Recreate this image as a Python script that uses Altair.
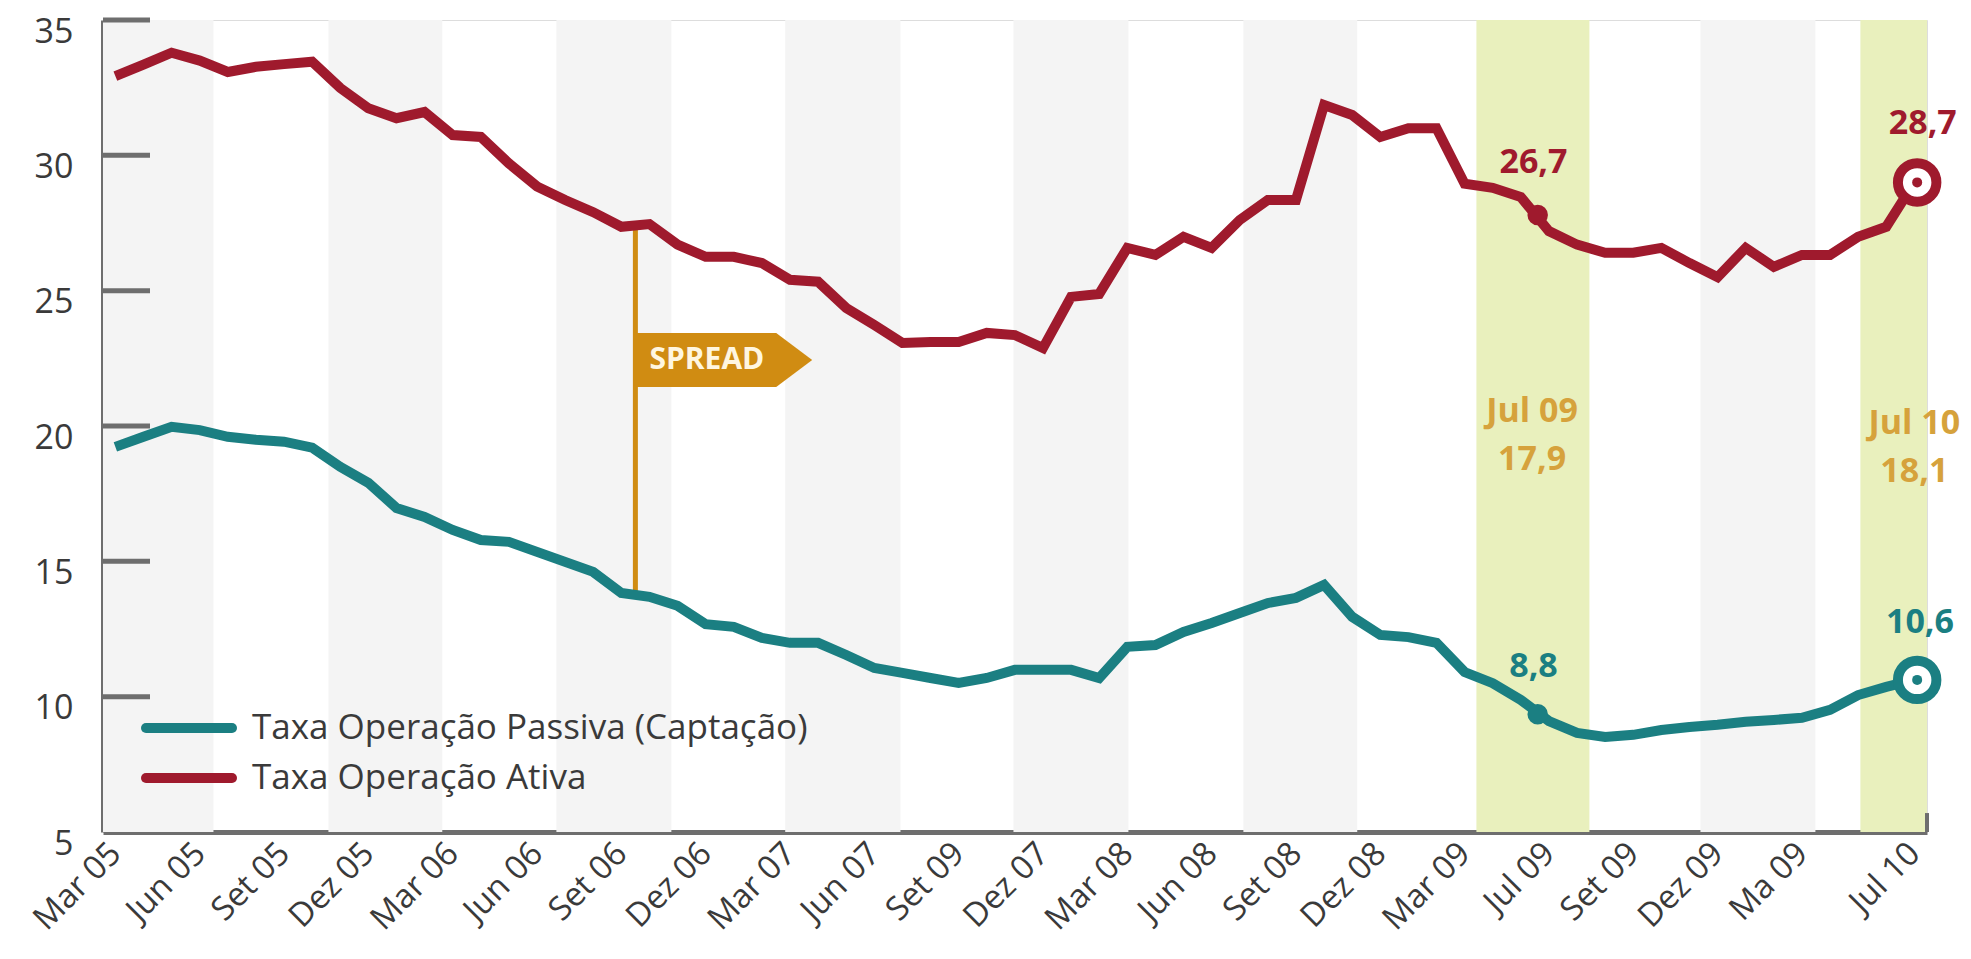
import altair as alt
import pandas as pd

# ---------------- data ----------------
idx = list(range(65))
ativa = [32.93, 33.35, 33.79, 33.5, 33.08, 33.27, 33.37, 33.46, 32.49, 31.74,
         31.37, 31.6, 30.75, 30.68, 29.7, 28.85, 28.35, 27.9, 27.36, 27.46,
         26.7, 26.25, 26.25, 26.02, 25.4, 25.33, 24.36, 23.73, 23.07, 23.1,
         23.1, 23.44, 23.36, 22.88, 24.77, 24.88, 26.58, 26.32, 26.99, 26.58,
         27.61, 28.35, 28.35, 31.86, 31.49, 30.68, 31.0, 31.0, 28.95, 28.8,
         28.46, 27.2, 26.7, 26.4, 26.4, 26.58, 26.02, 25.5, 26.58, 25.88,
         26.32, 26.32, 26.99, 27.36, 29.0]
passiva = [19.23, 19.6, 19.97, 19.85, 19.6, 19.49, 19.42, 19.2, 18.49, 17.9,
           16.97, 16.64, 16.16, 15.79, 15.72, 15.35, 14.98, 14.61, 13.83, 13.69,
           13.36, 12.68, 12.58, 12.17, 11.99, 11.99, 11.54, 11.06, 10.88, 10.69,
           10.51, 10.69, 10.99, 10.99, 10.99, 10.69, 11.84, 11.91, 12.39, 12.72,
           13.09, 13.46, 13.65, 14.13, 12.95, 12.28, 12.2, 11.99, 10.91, 10.5,
           9.88, 9.1, 8.66, 8.51, 8.59, 8.77, 8.88, 8.96, 9.07, 9.14,
           9.22, 9.51, 10.06, 10.36, 10.62]

tick_idx = [0, 3, 6, 9, 12, 15, 18, 21, 24, 27, 30, 33, 36, 39, 42, 45, 48, 51, 54, 57, 60, 64]
tick_labels = ["Mar 05", "Jun 05", "Set 05", "Dez 05", "Mar 06", "Jun 06", "Set 06",
               "Dez 06", "Mar 07", "Jun 07", "Set 09", "Dez 07", "Mar 08", "Jun 08",
               "Set 08", "Dez 08", "Mar 09", "Jul 09", "Set 09", "Dez 09", "Ma 09", "Jul 10"]
y_ticks = [5, 10, 15, 20, 25, 30, 35]

gray_start = [-0.44, 7.58, 15.69, 23.83, 31.95, 40.13, 56.39]
gray_end = [3.49, 11.63, 19.78, 27.93, 36.04, 44.18, 60.48]
yellow_start = [48.42, 62.08]
yellow_end = [52.44, 64.45]

series_names = ["Taxa Operação Passiva (Captação)", "Taxa Operação Ativa"]

# highlighted points
hl_x = [50.6, 50.6]
hl_y = [27.8, 9.35]
end_x = [64.1, 64.1]
end_y = [29.0, 10.62]
val_labels = ["26,7", "8,8", "28,7", "10,6"]
val_x = [50.45, 50.45, 64.3, 64.2]
val_y = [29.72, 11.1, 31.15, 12.72]
spread_labels = ["Jul 09", "17,9", "Jul 10", "18,1"]
spread_lx = [50.4, 50.4, 64.0, 64.0]
spread_ly = [20.52, 18.75, 20.08, 18.3]
spread_rule_x = [18.5]
spread_rule_top = [27.3]
spread_rule_bottom = [13.75]
flag_x = [21.66]
flag_y = [22.44]
flag_text_x = [19.0]

RED = "#9f1a2d"
TEAL = "#1b7f82"
GOLD = "#d08c12"
GOLD_TXT = "#d6a23c"
AXIS = "#6e6e6e"
FONT = "Open Sans"

W, H = 1824, 812
xs = alt.Scale(domain=[-0.44, 64.45], nice=False, zero=False)
ys = alt.Scale(domain=[5, 35], nice=False, zero=False)

label_expr = "[" + ",".join("'%s'" % l for l in tick_labels) + "][indexof([" + \
    ",".join(str(v) for v in tick_idx) + "], datum.value)]"

x_axis = alt.Axis(values=tick_idx, labelExpr=label_expr, labelAngle=-45,
                  labelAlign="right", labelBaseline="middle", labelFontSize=33,
                  labelFont=FONT, labelColor="#3a3a3a", ticks=False,
                  domainColor=AXIS, domainWidth=5, grid=False, title=None,
                  labelPadding=16, labelOverlap=False, labelFlush=False, labelBound=False)
y_axis = alt.Axis(values=y_ticks, labelFontSize=34, labelFont=FONT, labelColor="#3a3a3a",
                  ticks=False, domainColor=AXIS, domainWidth=5, grid=False, title=None,
                  labelPadding=30, labelOffset=12)


def X(field):
    return alt.X(field, scale=xs, title=None)


def Y(field):
    return alt.Y(field, scale=ys, title=None)


# ---------------- layers ----------------
gray_df = pd.DataFrame({"x0": gray_start, "x1": gray_end})
yellow_df = pd.DataFrame({"x0": yellow_start, "x1": yellow_end})

gray_layer = alt.Chart(gray_df).mark_rect(color="#f4f4f4").encode(
    x=alt.X("x0:Q", scale=xs, axis=x_axis), x2="x1:Q",
    y=alt.value(0), y2=alt.value(H))
yellow_layer = alt.Chart(yellow_df).mark_rect(color="#e9f0bd").encode(
    x=X("x0:Q"), x2="x1:Q",
    y=alt.value(0), y2=alt.value(H))

ytick_df = pd.DataFrame({"v": y_ticks[1:]})
yticks = alt.Chart(ytick_df).mark_rule(color=AXIS, strokeWidth=5).encode(
    y=alt.Y("v:Q", scale=ys, axis=y_axis), x=alt.value(0), x2=alt.value(47))

long_df = pd.DataFrame({
    "idx": idx + idx,
    "valor": passiva + ativa,
    "serie": [series_names[0]] * len(idx) + [series_names[1]] * len(idx),
})

lines = alt.Chart(long_df).mark_line(strokeWidth=10, strokeJoin="miter").encode(
    x=X("idx:Q"),
    y=Y("valor:Q"),
    color=alt.Color("serie:N", scale=alt.Scale(domain=series_names, range=[TEAL, RED]), legend=None),
    detail="serie:N",
)

end_tick_df = pd.DataFrame({"x": [64.45], "y0": [5.0], "y1": [5.7]})
end_tick = alt.Chart(end_tick_df).mark_rule(color=AXIS, strokeWidth=4).encode(
    x=X("x:Q"), y=Y("y0:Q"), y2="y1:Q")

# spread flag
sr_df = pd.DataFrame({"x": spread_rule_x, "y0": spread_rule_top, "y1": spread_rule_bottom})
spread_rule = alt.Chart(sr_df).mark_rule(color=GOLD, strokeWidth=5).encode(
    x=X("x:Q"), y=Y("y0:Q"), y2="y1:Q")
flag_df = pd.DataFrame({"x": flag_x, "y": flag_y, "tx": flag_text_x, "t": ["SPREAD"]})
flag = alt.Chart(flag_df).mark_point(
    shape="M-1,-0.307L0.591,-0.307L1,0L0.591,0.307L-1,0.307Z",
    filled=True, fill=GOLD, opacity=1, strokeWidth=0, size=30976).encode(
    x=X("x:Q"), y=Y("y:Q"))
flag_text = alt.Chart(flag_df).mark_text(
    font=FONT, fontSize=30, fontWeight="bold", color="#fff6e0", align="left", baseline="middle").encode(
    x=X("tx:Q"), y=Y("y:Q"), text="t:N")

# highlight markers
hl_df = pd.DataFrame({"x": hl_x, "y": hl_y, "c": [RED, TEAL]})
hl_dots = alt.Chart(hl_df).mark_point(filled=True, opacity=1, size=420, shape="circle").encode(
    x=X("x:Q"), y=Y("y:Q"), color=alt.Color("c:N", scale=None))

end_df = pd.DataFrame({"x": end_x, "y": end_y, "c": [RED, TEAL]})
rings = alt.Chart(end_df).mark_point(shape="circle", filled=False, fill="white", fillOpacity=1,
                                     opacity=1, strokeWidth=10, size=1480).encode(
    x=X("x:Q"), y=Y("y:Q"), stroke=alt.Stroke("c:N", scale=None))
centers = alt.Chart(end_df).mark_point(shape="circle", filled=True, opacity=1, size=100).encode(
    x=X("x:Q"), y=Y("y:Q"), color=alt.Color("c:N", scale=None))

vl_df = pd.DataFrame({"x": val_x, "y": val_y, "t": val_labels, "c": [RED, TEAL, RED, TEAL]})
val_text = alt.Chart(vl_df).mark_text(font=FONT, fontSize=34, fontWeight="bold",
                                      baseline="middle", align="center").encode(
    x=X("x:Q"), y=Y("y:Q"), text="t:N", color=alt.Color("c:N", scale=None))

sl_df = pd.DataFrame({"x": spread_lx, "y": spread_ly, "t": spread_labels})
sl_text = alt.Chart(sl_df).mark_text(font=FONT, fontSize=34, fontWeight="bold", color=GOLD_TXT,
                                     baseline="middle", align="center").encode(
    x=X("x:Q"), y=Y("y:Q"), text="t:N")

# legend (drawn)
leg_df = pd.DataFrame({"label": series_names, "py": [708, 758], "c": [TEAL, RED]})
leg_lines = alt.Chart(leg_df).mark_rule(strokeWidth=10, strokeCap="round").encode(
    x=alt.value(43), x2=alt.value(129), y=alt.Y("py:Q", scale=None, axis=None),
    color=alt.Color("c:N", scale=None))
leg_text = alt.Chart(leg_df).mark_text(font=FONT, fontSize=35, color="#3a3a3a",
                                       align="left", baseline="middle").encode(
    x=alt.value(149), y=alt.Y("py:Q", scale=None, axis=None), text="label:N")

chart = alt.layer(
    gray_layer, yellow_layer, yticks, end_tick, spread_rule, flag, flag_text,
    lines, hl_dots, rings, centers, val_text, sl_text, leg_lines, leg_text
).resolve_scale(color="independent").properties(
    width=W, height=H,
    autosize=alt.AutoSizeParams(type="none"),
    padding={"left": 95, "top": 12, "right": 36, "bottom": 116},
).configure_view(stroke=None).configure(background="white")

chart.save("out.html", embed_options={"renderer": "svg", "actions": False})
